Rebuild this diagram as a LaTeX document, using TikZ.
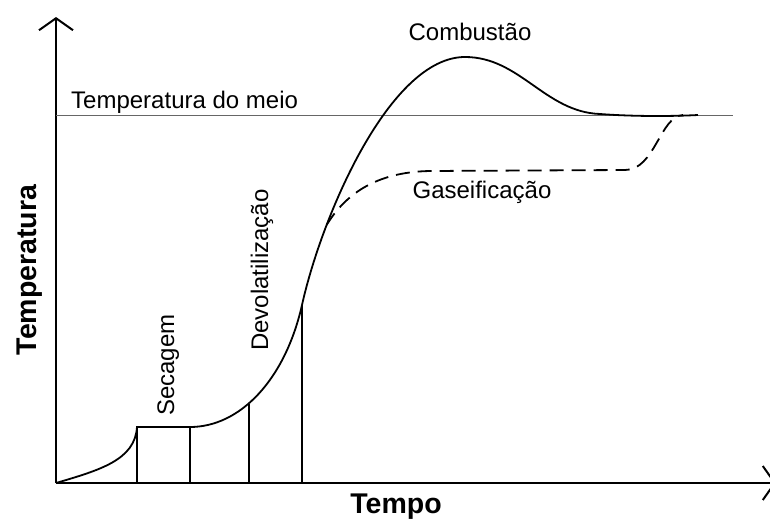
\documentclass[tikz,border=0pt]{standalone}
\usepackage{fontspec}
\setmainfont{Liberation Sans}
\usetikzlibrary{arrows.meta}

\begin{document}
\begin{tikzpicture}[x=1pt,y=-1pt,
	every node/.style={inner sep=0pt},
	lbl/.style={font=\fontsize{24}{28}\selectfont},
	axislbl/.style={font=\fontsize{28.5}{33}\selectfont\bfseries},
	axis/.style={line width=2pt,-{Straight Barb[length=12pt,width=34pt]}},
	curve/.style={line width=1.8pt},
	phase/.style={line width=1.5pt},
	meio/.style={line width=1pt,black!60}]

	\useasboundingbox (0,0) rectangle (770,522);

	% eixos
	\coordinate (O) at (56,483);
	\coordinate (ytop) at (56,17);
	\coordinate (xend) at (776,483);
	\draw[axis] (O) -- (ytop);
	\draw[axis] (O) -- (xend);

	% temperatura do meio
	\coordinate (m0) at (56,115);
	\coordinate (m1) at (733,115);
	\draw[meio] (m0) -- (m1);
	\node[lbl, anchor=base west] (meio) at (71,108) {Temperatura do meio};

	% pontos da curva
	\coordinate (s0) at (137,427);
	\coordinate (s1) at (190,427);
	\coordinate (d0) at (249,403.5);
	\coordinate (d1) at (302,305);
	\coordinate (pico) at (465,57);
	\coordinate (c1) at (698,115);
	\coordinate (g0) at (326.6,225);
	\coordinate (g1) at (683,115);

	% combustao
	\draw[curve] (O) .. controls (100,470) and (135,460) .. (s0) -- (s1)
		.. controls (240,427) and (285,380) .. (d1)
		.. controls (322,215) and (390,57) .. (pico)
		.. controls (520,57) and (545,112) .. (600,114)
		.. controls (640,117) and (680,116) .. (c1);

	% gaseificacao
	\draw[curve, dash pattern=on 14pt off 8pt] (g0) .. controls (345,195) and (375,172) .. (430,171)
		-- (625,170) .. controls (655,170) and (660,116) .. (g1);

	% fases
	\draw[phase] (s0) -- (s0 |- O);
	\draw[phase] (s1) -- (s1 |- O);
	\draw[phase] (d0) -- (d0 |- O);
	\draw[phase] (d1) -- (d1 |- O);

	\node[lbl, rotate=90, anchor=base] (secagem) at (174,365) {Secagem};
	\node[lbl, rotate=90, anchor=base] (devol) at (268,270) {Devolatilização};
	\node[lbl, anchor=base] (comb) at (470,40) {Combustão};
	\node[lbl, anchor=base] (gas) at (482,198) {Gaseificação};

	\node[axislbl, rotate=90, anchor=base] (ylbl) at (36,270) {Temperatura};
	\node[axislbl, anchor=base] (xlbl) at (396,513) {Tempo};

\end{tikzpicture}
\end{document}
